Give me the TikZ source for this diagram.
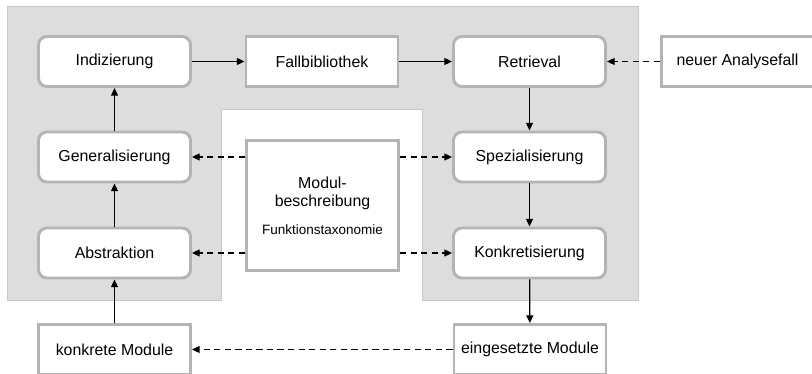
\documentclass[tikz,border=0pt]{standalone}
\usepackage{fontspec}
\setmainfont{Liberation Sans}
\usepackage{tikz}
\usetikzlibrary{arrows.meta}

\definecolor{bggray}{HTML}{DDDDDD}
\definecolor{bgline}{HTML}{C8C8C8}
\definecolor{boxline}{HTML}{B4B4B4}

\begin{document}
\begin{tikzpicture}[x=0.025cm, y=-0.025cm,
                    font=\fontsize{11.3}{12.8}\selectfont,
                    step_box/.style={rectangle, draw=boxline, fill=white, line width=2.1pt,
                                     minimum width=3.8cm, minimum height=1.25cm, rounded corners=6pt},
                    data_box/.style={rectangle, draw=boxline, fill=white, line width=2.1pt,
                                     minimum width=3.8cm, minimum height=1.25cm},
                    flow/.style={-{Triangle[length=5.5pt, width=5pt]}, line width=0.9pt, black},
                    ref/.style={flow, dash pattern=on 4.5pt off 3pt}]

            \useasboundingbox (0,0) rectangle (812,374);

            % grauer Rahmen um den Zyklus
            \fill[bggray, draw=bgline, line width=0.7pt]
                (7,6) -- (638,6) -- (638,300) -- (422,300) -- (422,109)
                -- (221,109) -- (221,300) -- (7,300) -- cycle;

            \node[step_box] (indiz) at (114.5,61.5) {Indizierung};
            \node[data_box] (fallbib) at (322,61.5) {Fallbibliothek};
            \node[step_box] (retr) at (529.5,61.5) {Retrieval};
            \node[data_box] (neu) at (737.5,61.5) {neuer Analysefall};

            \node[step_box] (gen) at (114.5,157) {Generalisierung};
            \node[step_box] (spez) at (529.5,157) {Spezialisierung};

            \node[data_box, minimum height=3.25cm, align=center] (modul) at (322.5,205.5)
                {Modul-\\beschreibung\\[7pt]{\fontsize{9.6}{11}\selectfont Funktionstaxonomie}};

            \node[step_box] (abstr) at (114.5,253) {Abstraktion};
            \node[step_box] (konkr) at (529.5,253) {Konkretisierung};

            \node[data_box] (konkmod) at (114.5,349.5) {konkrete Module};
            \node[data_box] (einmod) at (530,349.5) {eingesetzte Module};

            % Zyklus
            \draw[flow] (indiz) -- (fallbib);
            \draw[flow] (fallbib) -- (retr);
            \draw[ref] (neu) -- (retr);
            \draw[flow] (retr) -- (spez);
            \draw[flow] (spez) -- (konkr);
            \draw[flow] (konkr) -- (einmod);
            \draw[ref] (einmod) -- (konkmod);
            \draw[flow] (konkmod) -- (abstr);
            \draw[flow] (abstr) -- (gen);
            \draw[flow] (gen) -- (indiz);

            % Modulbeschreibung
            \draw[ref] (modul.west |- gen.east) -- (gen.east);
            \draw[ref] (modul.east |- spez.west) -- (spez.west);
            \draw[ref] (modul.west |- abstr.east) -- (abstr.east);
            \draw[ref] (modul.east |- konkr.west) -- (konkr.west);
        \end{tikzpicture}
\end{document}
